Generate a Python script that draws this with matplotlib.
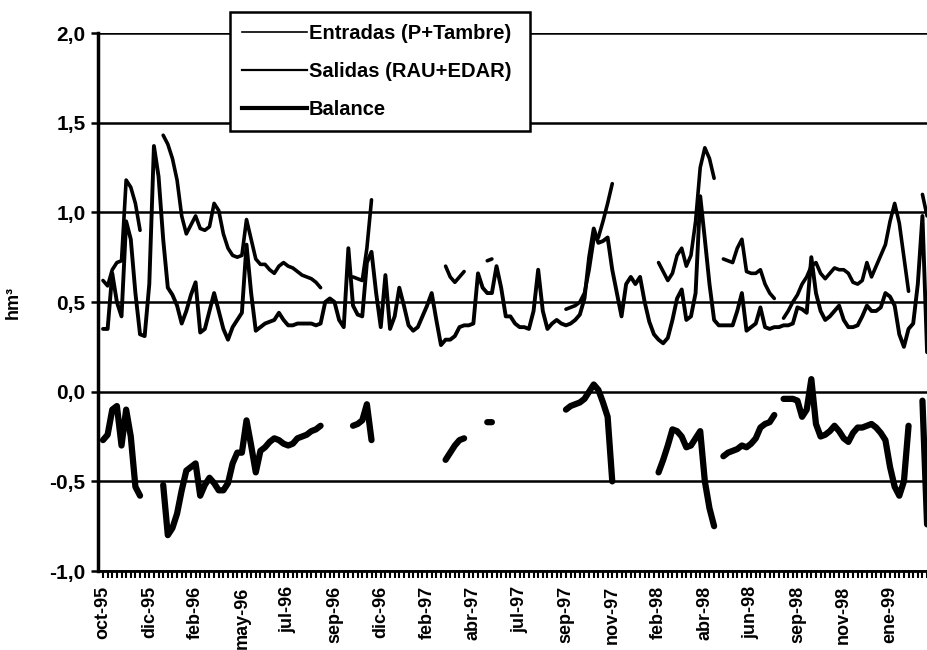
import numpy as np
import matplotlib
matplotlib.use('Agg')
import matplotlib.pyplot as plt
from matplotlib.lines import Line2D

nan = np.nan

# one label every 10 weeks
tick_labels = ['oct-95', 'dic-95', 'feb-96', 'may-96', 'jul-96', 'sep-96',
               'dic-96', 'feb-97', 'abr-97', 'jul-97', 'sep-97', 'nov-97',
               'feb-98', 'abr-98', 'jun-98', 'sep-98', 'nov-98', 'ene-99']

# weekly values, hm3
entradas = [
    0.35, 0.35, 0.66, 0.50, 0.42, 0.95, 0.85, 0.55, 0.32, 0.31,
    0.60, 1.37, 1.20, 0.85, 0.58, 0.54, 0.48, 0.38, 0.45, 0.54,
    0.61, 0.33, 0.35, 0.45, 0.55, 0.45, 0.35, 0.29, 0.36, 0.40,
    0.44, 0.82, 0.55, 0.34, 0.36, 0.38, 0.39, 0.40, 0.44, 0.40,
    0.37, 0.37, 0.38, 0.38, 0.38, 0.38, 0.37, 0.38, 0.50, 0.52,
    0.50, 0.40, 0.36, 0.80, 0.48, 0.43, 0.42, 0.72, 0.78, 0.55,
    0.36, 0.65, 0.35, 0.42, 0.58, 0.48, 0.37, 0.34, 0.36, 0.42,
    0.48, 0.55, 0.40, 0.26, 0.29, 0.29, 0.31, 0.36, 0.37, 0.37,
    0.38, 0.66, 0.58, 0.55, 0.55, 0.70, 0.58, 0.42, 0.42, 0.38,
    0.36, 0.36, 0.35, 0.45, 0.68, 0.45, 0.35, 0.38, 0.40, 0.38,
    0.37, 0.38, 0.40, 0.43, 0.52, 0.75, 0.91, 0.83, 0.84, 0.86,
    0.68, 0.55, 0.42, 0.60, 0.64, 0.60, 0.64, 0.50, 0.39, 0.32,
    0.29, 0.27, 0.30, 0.40, 0.52, 0.57, 0.40, 0.42, 0.55, 1.09,
    0.85, 0.60, 0.40, 0.37, 0.37, 0.37, 0.37, 0.45, 0.55, 0.34,
    0.36, 0.38, 0.47, 0.36, 0.35, 0.36, 0.36, 0.37, 0.37, 0.38,
    0.47, 0.46, 0.44, 0.75, 0.55, 0.45, 0.40, 0.42, 0.45, 0.48,
    0.40, 0.36, 0.36, 0.37, 0.42, 0.48, 0.45, 0.45, 0.47, 0.55,
    0.53, 0.48, 0.32, 0.25, 0.35, 0.38, 0.60, 0.98, 0.22,
]

salidas = [
    0.62, 0.59, 0.68, 0.72, 0.73, 1.18, 1.14, 1.05, 0.90, nan,
    nan, nan, nan, 1.43, 1.38, 1.30, 1.18, 0.98, 0.88, 0.93,
    0.98, 0.91, 0.90, 0.92, 1.05, 1.01, 0.88, 0.80, 0.76, 0.75,
    0.76, 0.96, 0.85, 0.74, 0.71, 0.71, 0.68, 0.66, 0.70, 0.72,
    0.70, 0.69, 0.67, 0.65, 0.64, 0.63, 0.61, 0.58, nan, nan,
    nan, nan, nan, nan, 0.64, 0.63, 0.62, 0.80, 1.07, nan,
    nan, nan, nan, nan, nan, nan, nan, nan, nan, nan,
    nan, nan, nan, nan, 0.70, 0.64, 0.61, 0.64, 0.67, nan,
    nan, nan, nan, 0.73, 0.74, nan, nan, nan, nan, nan,
    nan, nan, nan, nan, nan, nan, nan, nan, nan, nan,
    0.46, 0.47, 0.48, 0.50, 0.55, 0.68, 0.85, 0.86, 0.95, 1.05,
    1.16, nan, nan, nan, nan, nan, nan, nan, nan, nan,
    0.72, 0.67, 0.62, 0.66, 0.76, 0.80, 0.70, 0.76, 0.95, 1.25,
    1.36, 1.30, 1.19, nan, 0.74, 0.73, 0.72, 0.80, 0.85, 0.67,
    0.66, 0.66, 0.68, 0.60, 0.55, 0.52, nan, 0.41, 0.45, 0.50,
    0.54, 0.60, 0.64, 0.70, 0.72, 0.66, 0.63, 0.66, 0.69, 0.68,
    0.68, 0.66, 0.61, 0.60, 0.62, 0.72, 0.64, 0.70, 0.76, 0.82,
    0.95, 1.05, 0.94, 0.75, 0.56, nan, nan, 1.10, 0.98,
]

balance = [
    -0.27, -0.24, -0.10, -0.08, -0.30, -0.10, -0.25, -0.53, -0.58, nan,
    nan, nan, nan, -0.52, -0.80, -0.76, -0.68, -0.55, -0.44, -0.42,
    -0.40, -0.58, -0.52, -0.48, -0.51, -0.55, -0.55, -0.51, -0.40, -0.34,
    -0.34, -0.16, -0.30, -0.45, -0.33, -0.31, -0.28, -0.26, -0.27, -0.29,
    -0.30, -0.29, -0.26, -0.25, -0.24, -0.22, -0.21, -0.19, nan, nan,
    nan, nan, nan, nan, -0.19, -0.18, -0.16, -0.07, -0.27, nan,
    nan, nan, nan, nan, nan, nan, nan, nan, nan, nan,
    nan, nan, nan, nan, -0.38, -0.34, -0.30, -0.27, -0.26, nan,
    nan, nan, nan, -0.17, -0.17, nan, nan, nan, nan, nan,
    nan, nan, nan, nan, nan, nan, nan, nan, nan, nan,
    -0.10, -0.08, -0.07, -0.06, -0.04, 0.00, 0.04, 0.01, -0.06, -0.14,
    -0.50, nan, nan, nan, nan, nan, nan, nan, nan, nan,
    -0.45, -0.38, -0.30, -0.21, -0.22, -0.25, -0.31, -0.30, -0.26, -0.22,
    -0.50, -0.65, -0.75, nan, -0.36, -0.34, -0.33, -0.32, -0.30, -0.31,
    -0.29, -0.26, -0.20, -0.18, -0.17, -0.13, nan, -0.04, -0.04, -0.04,
    -0.05, -0.14, -0.10, 0.07, -0.18, -0.25, -0.24, -0.22, -0.19, -0.22,
    -0.26, -0.28, -0.23, -0.20, -0.20, -0.19, -0.18, -0.20, -0.23, -0.27,
    -0.42, -0.53, -0.58, -0.50, -0.19, nan, nan, -0.05, -0.74,
]

series_names = ['Entradas (P+Tambre)', 'Salidas (RAU+EDAR)', 'Balance']

plt.rcParams['font.family'] = ['Liberation Sans', 'DejaVu Sans']
plt.rcParams['font.weight'] = 'bold'

weeks = np.arange(len(entradas))

fig = plt.figure(figsize=(9.28, 6.5), dpi=100)
ax = fig.add_axes([0.1056, 0.1215, 0.8944, 0.8277])

ax.plot(weeks, entradas, color='black', lw=2.8, solid_joinstyle='round', solid_capstyle='round')
ax.plot(weeks, salidas, color='black', lw=2.6, solid_joinstyle='round', solid_capstyle='round')
ax.plot(weeks, balance, color='black', lw=4.5, solid_joinstyle='round', solid_capstyle='round')

ax.set_xlim(-1.08, 178.2)
ax.set_ylim(-1, 2)
yt = np.arange(-1, 2.01, 0.5)
ax.set_yticks(yt)
ax.set_yticklabels([('%.1f' % v).replace('.', ',') for v in yt], fontsize=15, fontweight='bold')
ax.yaxis.grid(True, color='black', lw=1.8)
ax.set_axisbelow(True)

ax.set_xticks(np.arange(0, 171, 10))
ax.set_xticklabels(tick_labels, rotation=90, fontsize=13, fontweight='bold', va='top')
ax.set_xticks(weeks, minor=True)
ax.tick_params(axis='x', which='both', direction='out', length=5, width=1.5, pad=6)
ax.tick_params(axis='y', direction='out', length=5, width=1.8, pad=4)

ax.spines['top'].set_visible(False)
ax.spines['right'].set_visible(False)
ax.spines['left'].set_linewidth(2.5)
ax.spines['bottom'].set_linewidth(2.0)

ax.set_ylabel('hm³', fontsize=13, fontweight='bold', labelpad=20)

handles = [Line2D([], [], color='black', lw=1.2),
           Line2D([], [], color='black', lw=1.6),
           Line2D([], [], color='black', lw=3.0)]
# legend box: x 230..530 px, top at 12 px
leg = fig.legend(handles, series_names, loc='upper left',
                 bbox_to_anchor=(230 / 928, 1 - 12 / 650 - 0.2, 300 / 928, 0.2),
                 mode='expand', frameon=True, fancybox=False, framealpha=1,
                 edgecolor='black', handlelength=3.2, handletextpad=0.1,
                 labelspacing=0.95, borderpad=0.6, borderaxespad=0,
                 prop={'size': 14.5, 'weight': 'bold'})
leg.get_frame().set_linewidth(1.8)

fig.savefig('out.png', dpi=100)
